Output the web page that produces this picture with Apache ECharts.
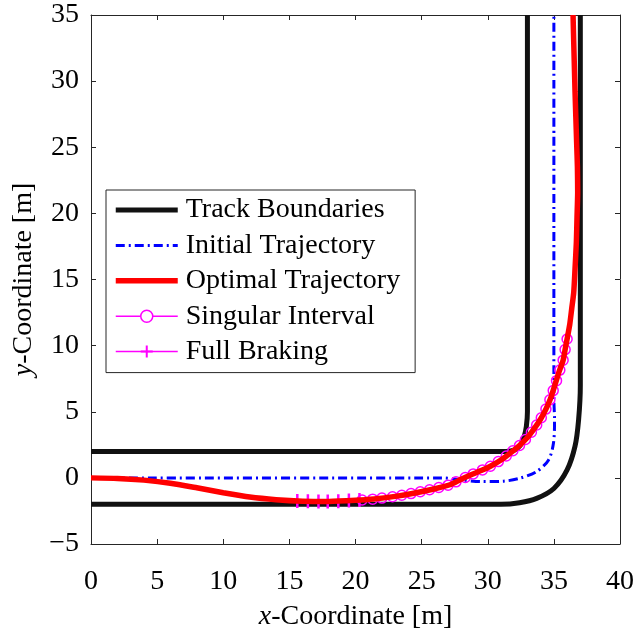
<!DOCTYPE html>
<html>
<head>
<meta charset="utf-8">
<script src="https://cdn.jsdelivr.net/npm/echarts@6/dist/echarts.min.js"></script>
<style>
  html, body { margin: 0; padding: 0; background: #fff; }
  #chart { width: 633px; height: 632px; }
</style>
</head>
<body>
<div id="chart"></div>
<script>
// ---- Data ----
const xTicks = [0, 5, 10, 15, 20, 25, 30, 35, 40];
const yTicks = [-5, 0, 5, 10, 15, 20, 25, 30, 35];

const innerBoundX = [0, 31.4, 32.0, 32.45, 32.75, 32.92, 33.0, 33.0];
const innerBoundY = [2, 2, 2.1, 2.45, 3.1, 3.9, 5.0, 35];

const outerBoundX = [0, 31.0, 32.4, 33.7, 35.0, 36.0, 36.6, 36.87, 37.0, 37.0];
const outerBoundY = [-2, -2, -1.88, -1.55, -0.8, 0.6, 2.4, 4.4, 7.0, 35];

const initialX = [0, 26.5, 28.0, 29.5, 31.2, 32.45, 33.7, 34.6, 34.97, 35.05, 35.0, 35.0];
const initialY = [0, 0, -0.15, -0.28, -0.25, -0.02, 0.48, 1.36, 2.63, 4.4, 6.0, 35];

const optimalX = [0, 2, 4, 6, 8, 10, 12, 14, 16, 18, 20, 21.4, 23, 24.4, 26, 27.2,
  28.0, 28.7, 29.5, 30.2, 31.0, 31.7, 32.4, 33.0, 33.5, 34.0, 34.4, 34.75, 35.1,
  35.4, 35.7, 35.85, 36.0, 36.2, 36.35, 36.5, 36.6, 36.7, 36.75, 36.8, 36.78, 36.72,
  36.66, 36.6, 36.55, 36.5, 36.45];
const optimalY = [0, -0.04, -0.17, -0.4, -0.75, -1.12, -1.45, -1.65, -1.76, -1.78, -1.7, -1.6, -1.4, -1.16, -0.82, -0.5,
  -0.1, 0.22, 0.55, 0.88, 1.35, 1.87, 2.45, 3.05, 3.7, 4.45, 5.2, 6.0, 7.1,
  8.05, 8.9, 9.7, 10.5, 11.6, 12.8, 14, 15.8, 17.8, 19.7, 21.6, 23.5, 25.4,
  27.3, 29.2, 31.1, 33, 35];

const singularX = [20.5, 21.3, 22.0, 22.8, 23.5, 24.2, 24.9, 25.6, 26.3, 27.0, 27.6, 28.3,
  28.9, 29.6, 30.2, 30.8, 31.4, 31.9, 32.4, 32.85, 33.3, 33.7, 34.05, 34.4, 34.7, 34.95,
  35.2, 35.45, 35.7, 35.85, 36.0];
const singularY = [-1.67, -1.61, -1.53, -1.43, -1.31, -1.19, -1.05, -0.9, -0.73, -0.55, -0.3, 0.03,
  0.3, 0.6, 0.88, 1.23, 1.65, 2.05, 2.45, 2.9, 3.45, 4.0, 4.55, 5.2, 5.9, 6.6,
  7.35, 8.15, 8.9, 9.7, 10.5];

const brakingX = [15.6, 16.4, 17.2, 17.9, 18.7, 19.5, 20.3];
const brakingY = [-1.75, -1.77, -1.78, -1.78, -1.76, -1.72, -1.68];

const seriesNames = ['Track Boundaries', 'Initial Trajectory', 'Optimal Trajectory', 'Singular Interval', 'Full Braking'];

// ---- Helpers ----
const zip = (xs, ys) => xs.map((x, i) => [x, ys[i]]);
const AX = '#262626';
const SERIF = '"Liberation Serif", "Times New Roman", serif';
const PLUS = 'path://M0,-10L0,10M-10,0L10,0';
const minusFmt = v => String(v).replace('-', '\u2212');
const BLUE_DASH = [9, 4, 2, 4];

const chart = echarts.init(document.getElementById('chart'), null, { renderer: 'canvas' });

const axisCommon = {
  type: 'value',
  interval: 5,
  splitLine: { show: false },
  axisLine: { show: true, onZero: false, lineStyle: { color: AX, width: 1 } },
  axisTick: { show: true, inside: true, length: 5, lineStyle: { color: AX, width: 1 } }
};

const titleStyle = {
  color: '#000', fontFamily: SERIF, fontSize: 28,
  rich: { i: { fontStyle: 'italic', fontFamily: SERIF, fontSize: 28, color: '#000' } }
};

const hiddenSymbol = { opacity: 0 };

const option = {
  animation: false,
  backgroundColor: '#fff',
  grid: { left: 91, right: 13, top: 15, bottom: 88, containLabel: false, outerBoundsMode: 'none' },
  xAxis: [
    Object.assign({}, axisCommon, {
      min: 0, max: 40, position: 'bottom',
      axisLabel: { margin: 24, color: '#000', fontFamily: SERIF, fontSize: 28, formatter: minusFmt },
      name: '{i|x}-Coordinate [m]',
      nameLocation: 'middle',
      nameGap: 59,
      nameTextStyle: titleStyle
    }),
    Object.assign({}, axisCommon, {
      min: 0, max: 40, position: 'top',
      axisLabel: { show: false }
    })
  ],
  yAxis: [
    Object.assign({}, axisCommon, {
      min: -5, max: 35, position: 'left',
      axisLabel: { margin: 12, color: '#000', fontFamily: SERIF, fontSize: 28, formatter: minusFmt },
      name: '{i|y}-Coordinate [m]',
      nameLocation: 'middle',
      nameRotate: 90,
      nameGap: 53,
      nameTextStyle: titleStyle
    }),
    Object.assign({}, axisCommon, {
      min: -5, max: 35, position: 'right',
      axisLabel: { show: false }
    })
  ],
  legend: {
    orient: 'vertical',
    left: 106,
    top: 190,
    itemWidth: 62,
    itemHeight: 15,
    itemGap: 7.4,
    padding: [6, 15, 7, 7],
    backgroundColor: '#fff',
    borderColor: AX,
    borderWidth: 1,
    borderRadius: 0,
    textStyle: { color: '#000', fontFamily: SERIF, fontSize: 28, lineHeight: 28, padding: [0, 0, 0, 3] },
    data: [
      { name: seriesNames[0], itemStyle: hiddenSymbol, lineStyle: { color: '#111', width: 5 } },
      { name: seriesNames[1], itemStyle: hiddenSymbol, lineStyle: { color: '#0000ff', width: 3, type: BLUE_DASH } },
      { name: seriesNames[2], itemStyle: hiddenSymbol, lineStyle: { color: '#ff0000', width: 5.5 } },
      { name: seriesNames[3], itemStyle: { color: '#fff', borderColor: '#ff00ff', borderWidth: 1.5 },
        lineStyle: { color: '#ff00ff', width: 1.5 } },
      { name: seriesNames[4], itemStyle: { color: '#ff00ff', borderColor: '#ff00ff', borderWidth: 2 },
        lineStyle: { color: '#ff00ff', width: 1.5 } }
    ]
  },
  series: [
    {
      name: seriesNames[0], type: 'line', data: zip(innerBoundX, innerBoundY),
      symbol: 'none', smooth: 0.3, z: 2,
      lineStyle: { color: '#111', width: 5 }, itemStyle: { color: '#111' }
    },
    {
      name: seriesNames[0], type: 'line', data: zip(outerBoundX, outerBoundY),
      symbol: 'none', smooth: 0.3, z: 2,
      lineStyle: { color: '#111', width: 5 }, itemStyle: { color: '#111' }
    },
    {
      name: seriesNames[1], type: 'line', data: zip(initialX, initialY),
      symbol: 'none', smooth: 0.3, z: 3,
      lineStyle: { color: '#0000ff', width: 3, type: BLUE_DASH }, itemStyle: { color: '#0000ff' }
    },
    {
      name: seriesNames[3], type: 'line', data: zip(singularX, singularY),
      symbol: 'circle', symbolSize: 10, showAllSymbol: true, smooth: 0.3, z: 4,
      lineStyle: { color: '#ff00ff', width: 1.5 },
      itemStyle: { color: 'rgba(255,255,255,0)', borderColor: '#ff00ff', borderWidth: 1.5 }
    },
    {
      name: seriesNames[4], type: 'line', data: zip(brakingX, brakingY),
      symbol: PLUS, symbolSize: 14, showAllSymbol: true, z: 4,
      lineStyle: { color: '#ff00ff', width: 1.5 },
      itemStyle: { color: '#ff00ff', borderColor: '#ff00ff', borderWidth: 2.5 }
    },
    {
      name: seriesNames[2], type: 'line', data: zip(optimalX, optimalY),
      symbol: 'none', smooth: 0.2, z: 5,
      lineStyle: { color: '#ff0000', width: 5.5 }, itemStyle: { color: '#ff0000' }
    }
  ]
};

chart.setOption(option);
</script>
</body>
</html>
